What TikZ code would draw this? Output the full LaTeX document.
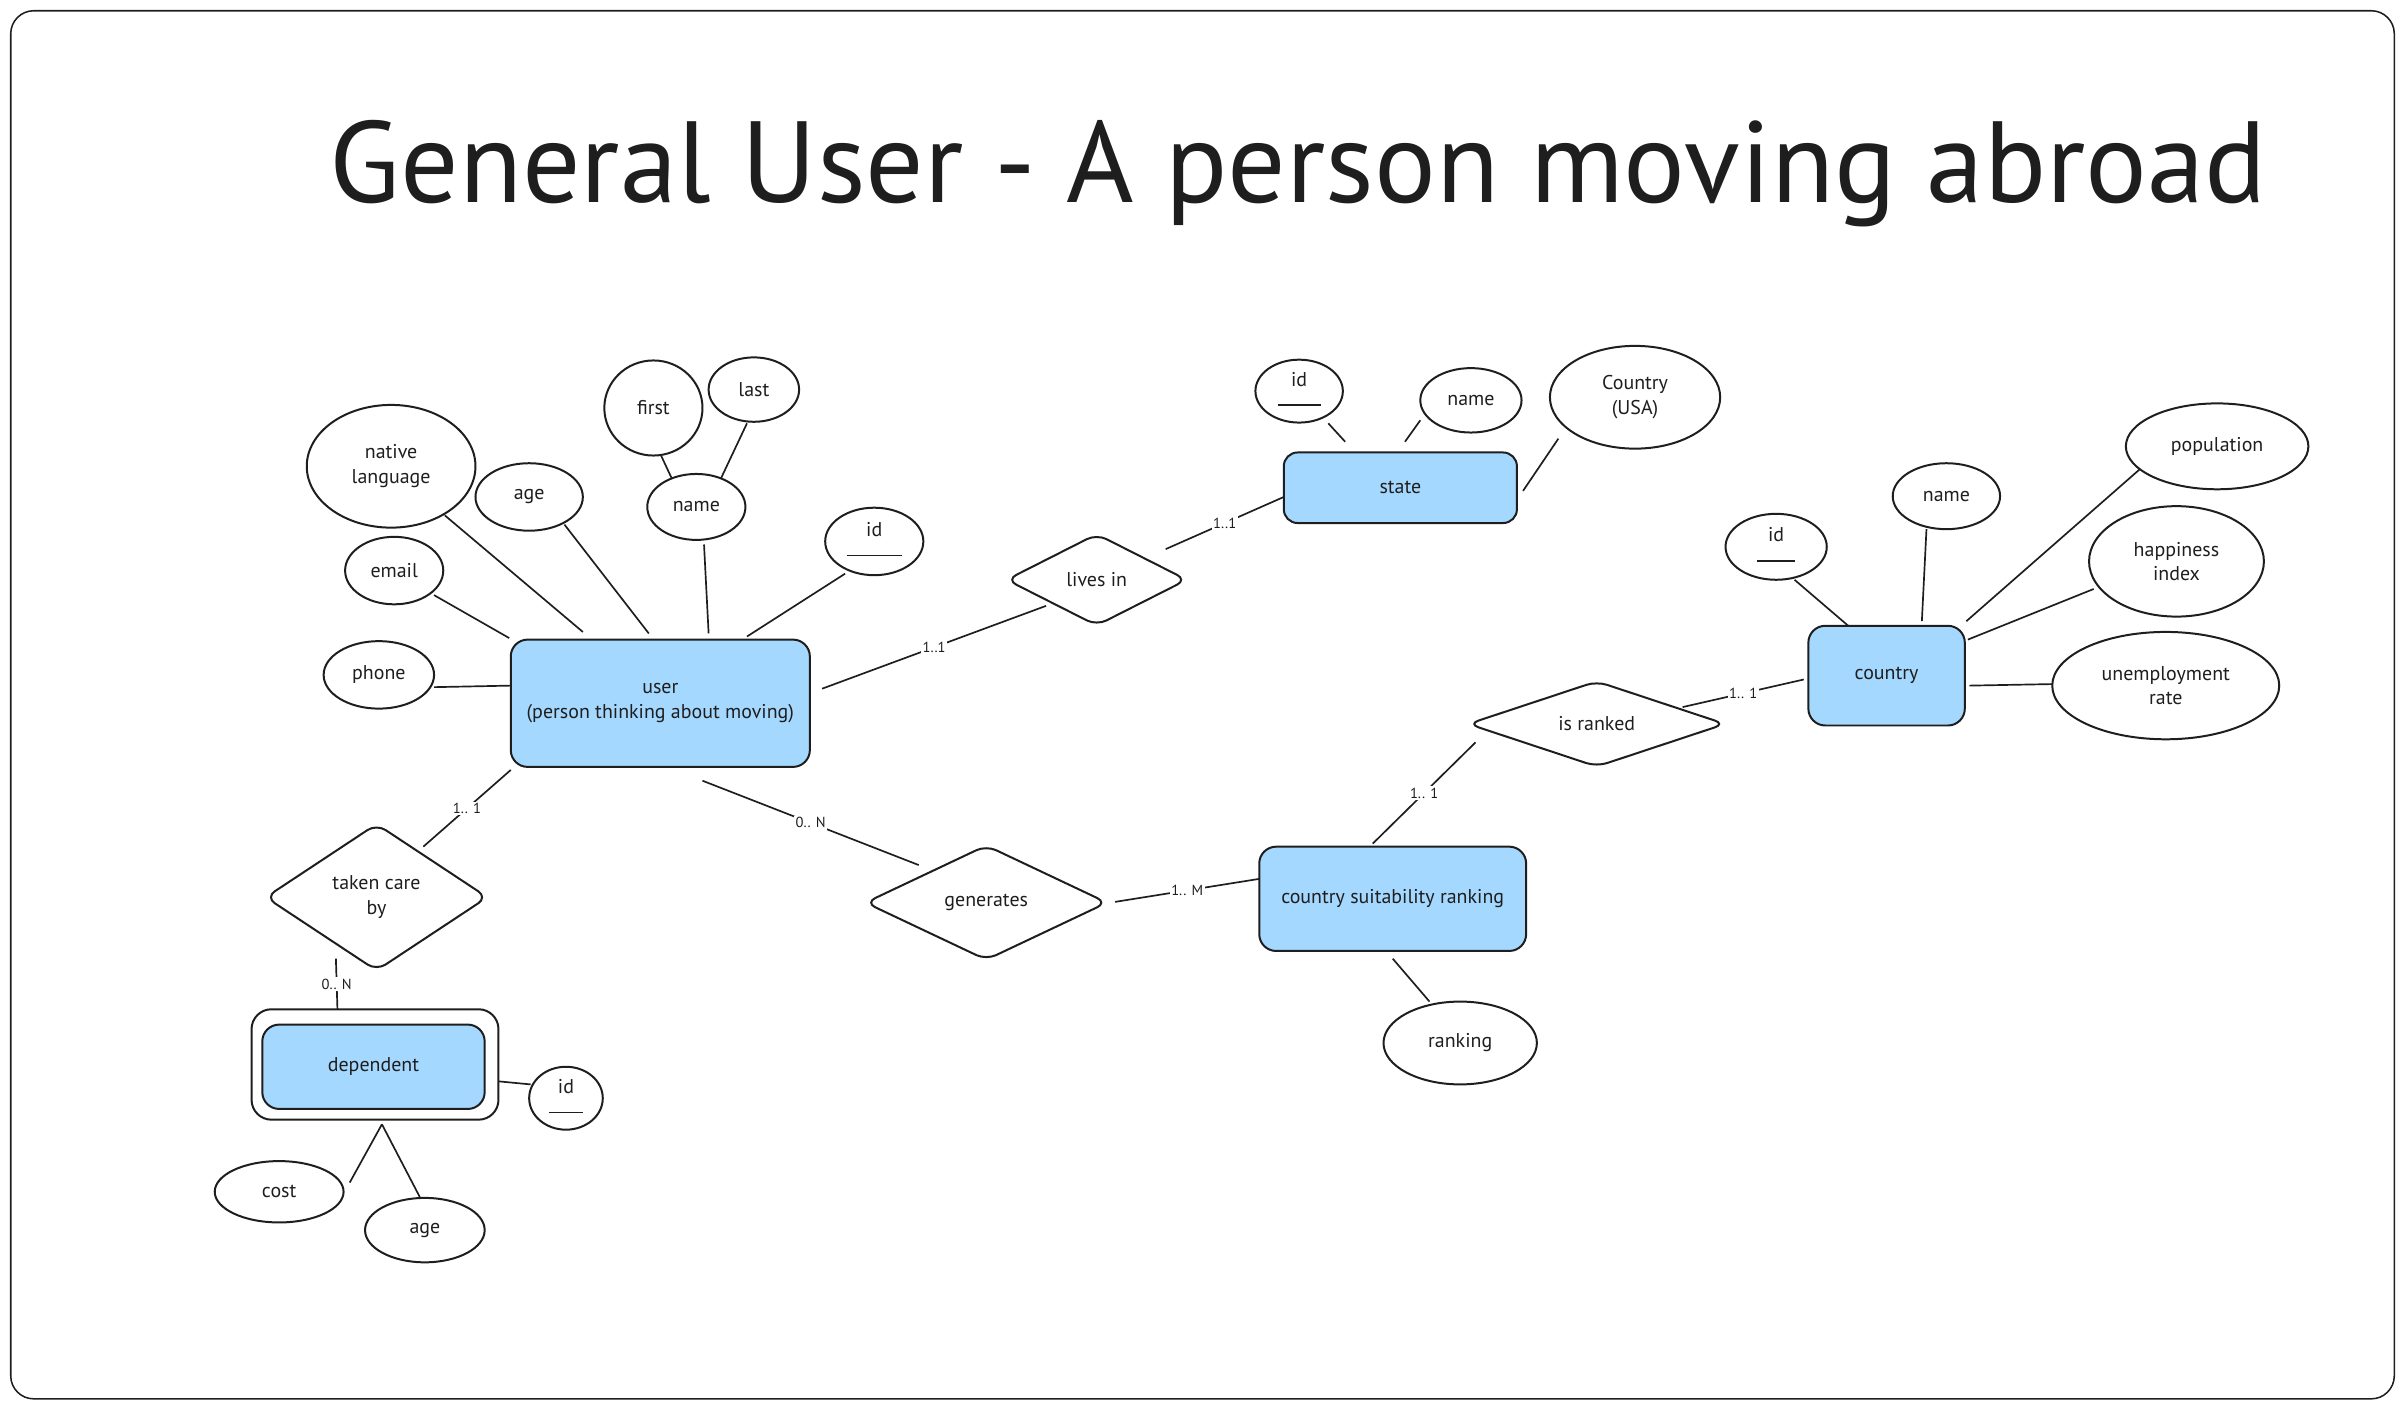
\documentclass[tikz,border=0pt]{standalone}
\usepackage{graphicx}
\usepackage{fontspec}
\setmainfont{PT Sans}
\usetikzlibrary{shapes.geometric,calc}
\definecolor{entblue}{HTML}{A5D8FF}
\definecolor{inkc}{HTML}{1E1E1E}
\newcommand\ulid[1]{\begin{tabular}{@{}c@{}}id\\[-3pt]\rule{#1}{1pt}\end{tabular}}
\begin{document}
\begin{tikzpicture}[x=1pt,y=-1pt,
  every node/.style={font=\fontsize{13}{16}\selectfont, text=inkc},
  entity/.style={rectangle, rounded corners=11pt, draw=inkc, line width=1.3pt, fill=entblue, inner sep=0pt, align=center},
  attr/.style={ellipse, draw=inkc, line width=1.3pt, fill=white, inner sep=0pt, align=center},
  rel/.style={diamond, draw=inkc, line width=1.3pt, fill=white, inner sep=0pt, rounded corners=7pt, align=center},
  conn/.style={draw=inkc, line width=1.1pt},
  card/.style={fill=white, inner sep=1pt, font=\fontsize{9.5}{10}\selectfont}
]
\useasboundingbox (0,0) rectangle (1568,918);
\draw[draw=inkc, line width=1pt, rounded corners=15pt] (7,7) rectangle (1561,912);

\node[anchor=base] (title) at (846.5,132) {\resizebox{1263pt}{!}{General User - A person moving abroad}};

% user side
\node[entity, minimum width=195pt, minimum height=83pt] (user) at (430.5,458.5) {user\\(person thinking about moving)};
\node[attr, minimum width=110pt, minimum height=80pt] (nl) at (255,304) {native\\language};
\node[attr, minimum width=70pt, minimum height=44pt] (uage) at (345,324) {age};
\node[attr, minimum width=64pt, minimum height=62pt] (first) at (426,266) {first};
\node[attr, minimum width=59pt, minimum height=42pt] (last) at (491.5,254) {last};
\node[attr, minimum width=64pt, minimum height=43pt] (uname) at (454,330.5) {name};
\node[attr, minimum width=64pt, minimum height=44pt] (uid) at (570,353) {\ulid{36pt}};
\node[attr, minimum width=64pt, minimum height=44pt] (email) at (257,372) {email};
\node[attr, minimum width=72pt, minimum height=44pt] (phone) at (247,440) {phone};

% state side
\node[rel, minimum width=118pt, minimum height=60pt, aspect=2] (livesin) at (715,378) {lives in};
\node[entity, minimum width=152pt, minimum height=46pt, rounded corners=9pt] (state) at (913,318) {state};
\node[attr, minimum width=57pt, minimum height=40pt] (sid) at (847,255) {\ulid{28pt}};
\node[attr, minimum width=66pt, minimum height=42pt] (sname) at (959,261) {name};
\node[attr, minimum width=111pt, minimum height=67pt] (usa) at (1066,259) {Country\\(USA)};

% country side
\node[entity, minimum width=102pt, minimum height=65pt] (country) at (1230,440.5) {country};
\node[attr, minimum width=66pt, minimum height=43pt] (cid) at (1158,356.5) {\ulid{25pt}};
\node[attr, minimum width=70pt, minimum height=43pt] (cname) at (1269,323.5) {name};
\node[attr, minimum width=119pt, minimum height=56pt] (pop) at (1445.5,291) {population};
\node[attr, minimum width=114pt, minimum height=72pt] (happy) at (1419,366) {happiness\\index};
\node[attr, minimum width=148pt, minimum height=70pt] (unemp) at (1412,447) {unemployment\\rate};

\node[rel, minimum width=168pt, minimum height=56pt, aspect=3] (isranked) at (1041,472) {is ranked};
\node[entity, minimum width=174pt, minimum height=68pt] (csr) at (908,586) {country suitability ranking};
\node[attr, minimum width=100pt, minimum height=54pt] (ranking) at (952,680) {ranking};
\node[rel, minimum width=158pt, minimum height=75pt, aspect=2.1] (generates) at (643,588.5) {generates};

% dependent side
\node[rel, minimum width=145pt, minimum height=96pt, aspect=1.5] (tcb) at (245.5,585) {taken care\\by};
\node[rectangle, rounded corners=13pt, draw=inkc, line width=1.3pt, fill=white, minimum width=161pt, minimum height=72pt] (depouter) at (244.5,694) {};
\node[entity, minimum width=145pt, minimum height=55pt] (dep) at (243.5,695.5) {dependent};
\node[attr, minimum width=48pt, minimum height=34pt] (did) at (369,716) {\ulid{22pt}};
\node[attr, minimum width=84pt, minimum height=40pt] (cost) at (182,777) {cost};
\node[attr, minimum width=78pt, minimum height=42pt] (dage) at (277,802) {age};

% connectors: user attributes
\draw[conn] ($(email)+(26,16)$) -- ($(user)+(-98.5,-42.5)$);
\draw[conn] ($(nl)+(35,32)$) -- ($(user)+(-50.5,-46.5)$);
\draw[conn] ($(uage)+(23,18)$) -- ($(user)+(-7.5,-45.5)$);
\draw[conn] ($(uname)+(5,24.5)$) -- ($(user)+(31.5,-45.5)$);
\draw[conn] ($(uid)+(-19,21)$) -- ($(user)+(56.5,-43.5)$);
\draw[conn] ($(phone)+(36,8)$) -- ($(user)+(-97.5,-11.5)$);
\draw[conn] ($(first)+(5,31)$) -- ($(uname)+(-16,-18.5)$);
\draw[conn] ($(last)+(-4.5,22)$) -- ($(uname)+(16,-18.5)$);

% relationships
\draw[conn] ($(user)+(105.5,-9.5)$) -- node[card]{1..1} ($(livesin)+(-33,17)$);
\draw[conn] ($(livesin)+(45,-20)$) -- node[card]{1..1} ($(state)+(-76,6)$);
\draw[conn] ($(user)+(27.5,50.5)$) -- node[card]{0.. N} ($(generates)+(-44,-24.5)$);
\draw[conn] ($(generates)+(84,-0.5)$) -- node[card]{1.. M} ($(csr)+(-87,-13)$);
\draw[conn] ($(isranked)+(56,-11)$) -- node[card]{1.. 1} ($(country)+(-54,2.5)$);
\draw[conn] ($(isranked)+(-79,12)$) -- node[card]{1.. 1} ($(csr)+(-13,-36)$);
\draw[conn] ($(user)+(-97.5,43.5)$) -- node[card]{1.. 1} ($(tcb)+(30.5,-33)$);
\draw[conn] ($(tcb)+(-26.5,40)$) -- node[card]{0.. N} ($(depouter)+(-24.5,-36)$);

% state attributes
\draw[conn] ($(sid)+(19,21)$) -- ($(state)+(-36,-30)$);
\draw[conn] ($(sname)+(-33,13)$) -- ($(state)+(3,-30)$);
\draw[conn] ($(usa)+(-50,27)$) -- ($(state)+(80,2)$);

% country attributes
\draw[conn] ($(cid)+(12,21.5)$) -- ($(country)+(-25,-32.5)$);
\draw[conn] ($(cname)+(-13,21.5)$) -- ($(country)+(23,-35.5)$);
\draw[conn] ($(pop)+(-50.5,15)$) -- ($(country)+(52,-35.5)$);
\draw[conn] ($(happy)+(-54,18)$) -- ($(country)+(53,-23.5)$);
\draw[conn] ($(unemp)+(-74,-1)$) -- ($(country)+(54,6.5)$);

% ranking
\draw[conn] ($(csr)+(0,39)$) -- ($(ranking)+(-20,-27)$);

% dependent attributes
\draw[conn] ($(depouter)+(80.5,11)$) -- ($(did)+(-23,-9)$);
\draw[conn] ($(depouter)+(4.5,39)$) -- ($(cost)+(46,-6)$);
\draw[conn] ($(depouter)+(4.5,39)$) -- ($(dage)+(-3,-21)$);
\end{tikzpicture}
\end{document}
